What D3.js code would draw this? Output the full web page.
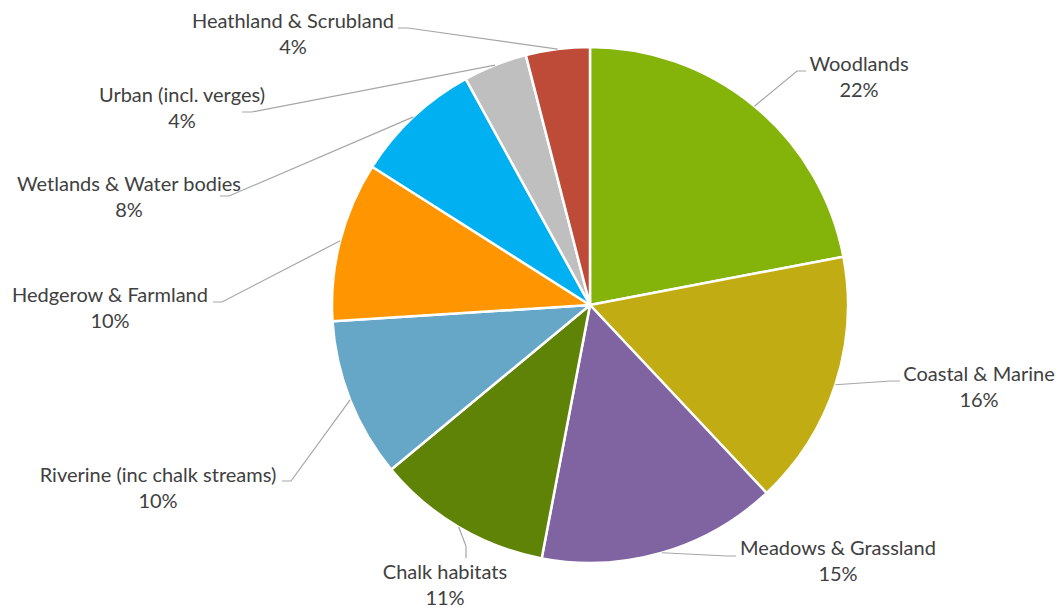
<!DOCTYPE html>
<html>
<head>
<meta charset="utf-8">
<script src="https://cdn.jsdelivr.net/npm/d3@7"></script>
<style>
  html, body { margin: 0; padding: 0; background: #fff; }
  svg { display: block; }
  .lbl { font-family: Lato, "Open Sans", sans-serif; font-size: 20px; fill: #404040; }
</style>
</head>
<body>
<svg id="chart" width="1061" height="610"></svg>
<script>
// Habitat share of records, in drawing order (clockwise from 12 o'clock)
const habitats = [
  "Woodlands",
  "Coastal & Marine",
  "Meadows & Grassland",
  "Chalk habitats",
  "Riverine (inc chalk streams)",
  "Hedgerow & Farmland",
  "Wetlands & Water bodies",
  "Urban (incl. verges)",
  "Heathland & Scrubland"
];
const shares = [22, 16, 15, 11, 10, 10, 8, 4, 4];
const sliceColors = [
  "#84b30a", "#c2ac14", "#8064a2", "#5f8307", "#66a7c7",
  "#ff9500", "#00b0f0", "#bfbfbf", "#be4a38"
];

// Label placement: text centre x, first-line baseline y, and leader elbow/end points
const labelLayout = [
  { x: 859, y: 71,  elbow: [797, 71],  end: [806, 71] },
  { x: 979, y: 381, elbow: [891, 381], end: [900, 381] },
  { x: 838, y: 555, elbow: [727, 556], end: [736, 556] },
  { x: 445, y: 579, elbow: [466, 546], end: [466, 558] },
  { x: 158, y: 482, elbow: [291, 481], end: [282, 481] },
  { x: 110, y: 302, elbow: [222, 302], end: [213, 302] },
  { x: 129, y: 191, elbow: [229, 196], end: [220, 196] },
  { x: 182, y: 102, elbow: [252, 112], end: [242, 112] },
  { x: 293, y: 28,  elbow: [408, 28],  end: [398, 28] }
];

const cx = 590, cy = 305, radius = 258;

const data = habitats.map((name, i) => ({ name, value: shares[i], color: sliceColors[i], layout: labelLayout[i] }));

const svg = d3.select("#chart");
const g = svg.append("g").attr("transform", `translate(${cx},${cy})`);

const pie = d3.pie().sort(null).value(d => d.value).startAngle(0).endAngle(2 * Math.PI);
const arcs = pie(data);

const arc = d3.arc().innerRadius(0).outerRadius(radius);

g.selectAll("path.slice")
  .data(arcs)
  .join("path")
  .attr("class", "slice")
  .attr("d", arc)
  .attr("fill", d => d.data.color)
  .attr("stroke", "#fff")
  .attr("stroke-width", 2.5)
  .attr("stroke-linejoin", "round");

// Leader lines: from the slice rim at its mid-angle to the label
const lines = svg.append("g");
arcs.forEach(d => {
  const a = (d.startAngle + d.endAngle) / 2;
  const sx = cx + radius * Math.sin(a);
  const sy = cy - radius * Math.cos(a);
  const L = d.data.layout;
  lines.append("polyline")
    .attr("points", [[sx, sy], L.elbow, L.end].map(p => p.join(",")).join(" "))
    .attr("fill", "none")
    .attr("stroke", "#a6a6a6")
    .attr("stroke-width", 1.2);
});

// Two-line labels: category name and percentage
const labels = svg.append("g");
arcs.forEach(d => {
  const L = d.data.layout;
  const t = labels.append("text")
    .attr("class", "lbl")
    .attr("text-anchor", "middle")
    .attr("x", L.x)
    .attr("y", L.y);
  t.append("tspan").attr("x", L.x).text(d.data.name);
  t.append("tspan").attr("x", L.x).attr("dy", 26).text(d3.format(".0%")(d.data.value / 100));
});
</script>
</body>
</html>
